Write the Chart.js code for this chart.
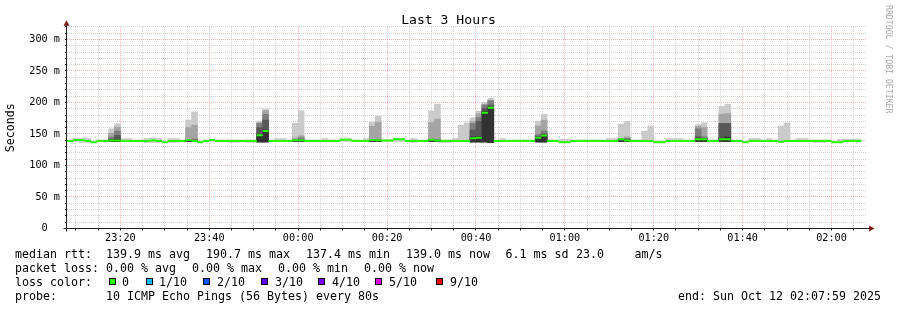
<!DOCTYPE html>
<html>
<head>
<meta charset="utf-8">
<script src="https://cdn.jsdelivr.net/npm/chart.js@4.4.0/dist/chart.umd.min.js"></script>
<style>
  body { margin: 0; background: #fff; }
  #wrap { position: relative; width: 897px; height: 310px; font-family: 'DejaVu Sans Mono', monospace; color: #000; overflow: hidden; }
  canvas { position: absolute; left: 0; top: 0; }
  .t { position: absolute; white-space: pre; font-size: 11.63px; line-height: 11.63px; }
  .box { position: absolute; width: 5px; height: 5px; border: 1px solid #000; top: 278px; }
  #title { position: absolute; left: 0; width: 897px; top: 12.9px; text-align: center; font-size: 13.1px; line-height: 13.1px; }
  #mark { position: absolute; left: 893px; top: 5px; font-size: 8.2px; line-height: 8.2px; color: #aaa; white-space: pre;
          transform: rotate(90deg); transform-origin: 0 0; }
</style>
</head>
<body>
<div id="wrap">
  <canvas id="myChart" width="897" height="310"></canvas>
  <div id="title">Last 3 Hours</div>
  <div id="mark">RRDTOOL / TOBI OETIKER</div>

  <div class="t" style="left:15px;top:248.7px">median rtt:</div>
  <div class="t" style="left:106px;top:248.7px">139.9 ms avg</div>
  <div class="t" style="left:206px;top:248.7px">190.7 ms max</div>
  <div class="t" style="left:306px;top:248.7px">137.4 ms min</div>
  <div class="t" style="left:406px;top:248.7px">139.0 ms now</div>
  <div class="t" style="left:505.5px;top:248.7px">6.1 ms sd</div>
  <div class="t" style="left:576px;top:248.7px">23.0</div>
  <div class="t" style="left:634.5px;top:248.7px">am/s</div>

  <div class="t" style="left:15px;top:262.9px">packet loss:</div>
  <div class="t" style="left:106px;top:262.9px">0.00 % avg</div>
  <div class="t" style="left:192px;top:262.9px">0.00 % max</div>
  <div class="t" style="left:278px;top:262.9px">0.00 % min</div>
  <div class="t" style="left:364px;top:262.9px">0.00 % now</div>

  <div class="t" style="left:15px;top:277.1px">loss color:</div>
  <div class="box" style="left:109px;background:#26ff00"></div>
  <div class="t" style="left:122px;top:277.1px">0</div>
  <div class="box" style="left:146px;background:#00b8ff"></div>
  <div class="t" style="left:159px;top:277.1px">1/10</div>
  <div class="box" style="left:203px;background:#0059ff"></div>
  <div class="t" style="left:217px;top:277.1px">2/10</div>
  <div class="box" style="left:261px;background:#5e00ff"></div>
  <div class="t" style="left:275px;top:277.1px">3/10</div>
  <div class="box" style="left:318px;background:#7e00ff"></div>
  <div class="t" style="left:332px;top:277.1px">4/10</div>
  <div class="box" style="left:375px;background:#dd00ff"></div>
  <div class="t" style="left:389px;top:277.1px">5/10</div>
  <div class="box" style="left:436px;background:#ff0000"></div>
  <div class="t" style="left:450px;top:277.1px">9/10</div>

  <div class="t" style="left:15px;top:291.3px">probe:</div>
  <div class="t" style="left:106px;top:291.3px">10 ICMP Echo Pings (56 Bytes) every 80s</div>
  <div class="t" style="right:16px;top:291.3px">end: Sun Oct 12 02:07:59 2025</div>
</div>
<script>
// time axis in minutes after 23:00, one RRD step = 80 s
const STEP_START = 8.0;
const STEP_LEN = 80 / 60;
const X_MIN = 7.983, X_MAX = 187.983;

const xTickMinutes = [20, 40, 60, 80, 100, 120, 140, 160, 180];
const xTickLabels = ['23:20', '23:40', '00:00', '00:20', '00:40', '01:00', '01:20', '01:40', '02:00'];
const yTickValues = [0, 50, 100, 150, 200, 250, 300];
const yTickLabels = ['0  ', '50 m', '100 m', '150 m', '200 m', '250 m', '300 m'];

// median rtt per step (ms)
const median = [
  139, 140.5, 140.5, 139, 137, 139, 139, 139.5, 139.5, 139,
  139, 139, 139, 139, 139.5, 139, 137, 139, 139, 139,
  140.5, 139, 137, 139, 140.5, 139, 139, 139, 139, 139,
  139, 139, 148, 154.5, 139, 139, 139, 139, 140, 140,
  139, 139, 139, 139, 139, 139, 141, 141, 139, 139,
  139, 140.5, 140, 139.5, 139.5, 141.5, 141.5, 139, 139, 139,
  139, 141, 139.5, 139, 139, 139, 139, 139, 143, 144,
  183.5, 191.5, 139, 139, 139, 139, 139, 139, 139, 144,
  147.5, 139, 139, 137, 137, 139, 139, 139, 139, 139,
  139, 139, 139, 141.5, 139.5, 139, 139, 139, 139, 137,
  137, 139, 139, 139, 139, 139, 141.5, 141.5, 139, 139,
  141.5, 141.5, 139, 139, 137, 139, 139, 139, 139, 139,
  137.5, 139, 139, 139, 139, 139, 139, 139, 139, 137,
  137, 139, 139, 139
];

// fastest and slowest of the 10 pings per step (ms)
const pingMin = [
  138, 138, 136.5, 136.5, 136, 138, 138, 138, 138, 138,
  138, 138, 138, 136.5, 136.5, 136.5, 136, 136.5, 136.5, 138,
  138, 138, 136, 138, 138, 138, 138, 136.5, 136.5, 138,
  136.5, 136.5, 137.5, 137.5, 138, 138, 138, 138, 138, 138,
  138, 138, 138, 138, 138, 138, 138, 138, 138, 138,
  138, 138, 138, 138, 138, 138, 138, 138, 136.5, 138,
  138, 138, 138, 136.5, 136.5, 138, 138, 138, 137.5, 137.5,
  137.5, 136, 138, 138, 138, 138, 138, 138, 138, 137.5,
  137.5, 138, 138, 136, 136, 138, 138, 138, 138, 138,
  138, 138, 138, 138, 138, 138, 138, 138, 138, 136,
  136, 138, 138, 138, 138, 138, 138, 138, 138, 138,
  138, 138, 138, 138, 136, 138, 138, 138, 138, 138,
  136.5, 138, 138, 138, 138, 138, 136.5, 136.5, 138, 136,
  136, 138, 138, 138
];
const pingMax = [
  140.5, 142.5, 142.5, 142.5, 138.5, 140.5, 140.5, 158, 166, 142.5,
  142.5, 140.5, 140.5, 142.5, 143.5, 142.5, 138.5, 142.5, 142.5, 140.5,
  172, 185, 138.5, 140.5, 142, 140.5, 140.5, 140.5, 140.5, 140.5,
  140.5, 140.5, 170.5, 189.5, 140.5, 142.5, 142.5, 140.5, 167, 186.5,
  140.5, 140.5, 140.5, 142.5, 140.5, 140.5, 142.5, 142.5, 140.5, 140.5,
  142.5, 169, 178.5, 140.5, 140.5, 143, 143, 140.5, 142.5, 140.5,
  140.5, 186.5, 197.5, 140.5, 140.5, 142.5, 163.5, 167.5, 175.5, 186,
  200, 206.5, 140.5, 142.5, 140.5, 140.5, 140.5, 140.5, 140.5, 170.5,
  181, 140.5, 140.5, 142, 142, 140.5, 140.5, 140.5, 140.5, 140.5,
  140.5, 142.5, 142.5, 165.5, 169.5, 140.5, 140.5, 154.5, 162.5, 138.5,
  138.5, 142.5, 142.5, 142.5, 140.5, 140.5, 165, 167.5, 140.5, 140.5,
  194, 197.5, 140.5, 140.5, 138.5, 142.5, 142.5, 140.5, 142.5, 140.5,
  162.5, 167.5, 140.5, 142.5, 142.5, 140.5, 140.5, 140.5, 140.5, 138.5,
  141.5, 142, 142, 142
];

// steps where the inner pings spread out (ms)
const spikeSteps = [7, 8, 20, 21, 32, 33, 38, 39, 51, 52, 61, 62, 68, 69, 70, 71, 79, 80, 93, 94, 106, 107, 110, 111];
const ping9 = [151, 161, 160, 164, 168, 187, 144, 147, 162, 169, 168, 173.5, 169.5, 182, 197, 203.5, 163, 172, 143, 145.5, 162, 160, 181.5, 182.5];
const ping8 = [145, 154.5, 141, 141, 166.5, 181, 141, 144, 141, 141, 141.5, 141, 166.5, 176, 196, 202.5, 149, 154.5, 142.5, 143, 158, 145.5, 167, 167];
const ping7 = [142, 148, 140.5, 140.5, 160, 172, 140.5, 141, 140.5, 140.5, 141, 140.5, 156, 170, 190.5, 196, 146, 150, 142, 141, 145.5, 143, 166.5, 166.5];
const ping6 = [141, 142, 140, 140, 149.5, 156, 140, 140.5, 140, 140, 140.5, 140, 145.5, 146, 186, 192.5, 145, 148.5, 141.5, 140.5, 143, 142.5, 143.5, 145];

const FONT = 'DejaVu Sans Mono';
const GREEN = '#26ff00';
const SMOKE = ['#cacaca', '#a4a4a4', '#7e7e7e', '#585858', '#323232'];
const MINOR = '#d2d2d2';
const MAJOR = '#f2b2b2';
const AXIS = '#1f1f1f';
const ARROW = '#7f1f1f';

const stepX = (i) => STEP_START + (i + 0.5) * STEP_LEN;

const gridMinutes = [];
for (let m = 10; m < X_MAX; m += 5) gridMinutes.push(m);
const gridValues = [];
for (let v = 0; v <= 320; v += 10) gridValues.push(v);

const barStyle = { type: 'bar', grouped: false, barPercentage: 1, categoryPercentage: 1, borderWidth: 0 };

const datasets = [{
  type: 'line',
  data: median.map((v, i) => ({ x: stepX(i), y: v })),
  showLine: false,
  pointStyle: 'line',
  pointRadius: 3,
  pointHoverRadius: 3,
  pointBorderWidth: 2,
  pointBorderColor: GREEN,
  pointBackgroundColor: GREEN,
  order: 0
}];
[ping6, ping7, ping8, ping9].forEach((arr, k) => {
  datasets.push(Object.assign({}, barStyle, {
    data: spikeSteps.map((s, j) => ({ x: stepX(s), y: [pingMin[s], arr[j]] })),
    backgroundColor: SMOKE[4 - k],
    order: k + 1
  }));
});
datasets.push(Object.assign({}, barStyle, {
  data: pingMax.map((v, i) => ({ x: stepX(i), y: [pingMin[i], v] })),
  backgroundColor: SMOKE[0],
  order: 5
}));

const rrdAxes = {
  id: 'rrdAxes',
  afterDraw(chart) {
    const { ctx, chartArea: a } = chart;
    const x0 = Math.round(a.left) - 0.5;
    const y0 = Math.round(a.bottom) - 0.5;
    ctx.save();
    ctx.strokeStyle = AXIS;
    ctx.lineWidth = 1;
    ctx.beginPath();
    ctx.moveTo(x0 - 3, y0); ctx.lineTo(a.right + 5, y0);
    ctx.moveTo(x0, y0 + 3); ctx.lineTo(x0, a.top - 4);
    ctx.stroke();
    ctx.fillStyle = ARROW;
    ctx.beginPath();
    ctx.moveTo(x0, a.top - 6.5); ctx.lineTo(x0 - 3, a.top - 1); ctx.lineTo(x0 + 3, a.top - 1);
    ctx.closePath(); ctx.fill();
    ctx.beginPath();
    ctx.moveTo(a.right + 7.5, y0); ctx.lineTo(a.right + 2, y0 - 3); ctx.lineTo(a.right + 2, y0 + 3);
    ctx.closePath(); ctx.fill();
    ctx.restore();
  }
};

new Chart(document.getElementById('myChart'), {
  type: 'bar',
  data: { datasets },
  plugins: [rrdAxes],
  options: {
    responsive: false,
    animation: false,
    devicePixelRatio: 1,
    events: [],
    layout: { padding: { top: 26.8, right: 30, left: 0, bottom: 0 } },
    plugins: { legend: { display: false }, tooltip: { enabled: false }, title: { display: false } },
    scales: {
      x: {
        type: 'linear',
        min: X_MIN,
        max: X_MAX,
        offset: false,
        afterFit: (s) => { s.height = 81.5; },
        afterBuildTicks: (s) => { s.ticks = gridMinutes.map((v) => ({ value: v })); },
        grid: {
          offset: false,
          color: (c) => (c.tick && c.tick.value % 20 === 0 ? MAJOR : MINOR),
          lineWidth: 1,
          tickLength: 2,
          tickColor: AXIS
        },
        border: { display: false, dash: [1, 1] },
        ticks: {
          autoSkip: false, maxRotation: 0, minRotation: 0, padding: 1.5,
          color: '#000', font: { family: FONT, size: 10.2 },
          callback: (v) => { const k = xTickMinutes.indexOf(v); return k < 0 ? '' : xTickLabels[k]; }
        }
      },
      y: {
        min: 0,
        max: 320,
        afterFit: (s) => { s.width = 67; },
        afterBuildTicks: (s) => { s.ticks = gridValues.map((v) => ({ value: v })); },
        grid: {
          color: (c) => (c.tick && c.tick.value % 50 === 0 ? MAJOR : MINOR),
          lineWidth: 1,
          tickLength: 2,
          tickColor: AXIS
        },
        border: { display: false, dash: [1, 1] },
        ticks: {
          autoSkip: false, padding: 5,
          color: '#000', font: { family: FONT, size: 10.2 },
          callback: (v) => { const k = yTickValues.indexOf(v); return k < 0 ? '' : yTickLabels[k]; }
        },
        title: {
          display: true, text: 'Seconds', color: '#000',
          font: { family: FONT, size: 11.63 }, padding: { top: 4, bottom: 0 }
        }
      }
    }
  }
});
</script>
</body>
</html>
